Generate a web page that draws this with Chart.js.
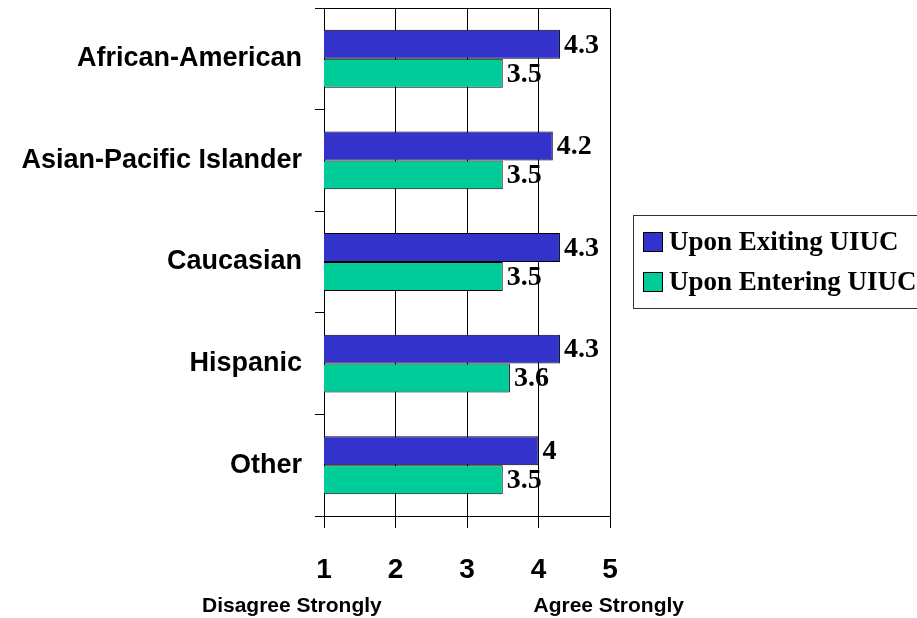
<!DOCTYPE html>
<html lang="en">
<head>
    <meta charset="UTF-8">
    <title>Upon Exiting / Entering UIUC</title>
    <script src="https://cdn.jsdelivr.net/npm/chart.js"></script>
    <style>
        body {
            margin: 0;
            background: white;
            overflow: hidden;
        }
    </style>
</head>
<body>
    <canvas id="uiucChart" width="917" height="618"></canvas>
    <script>
        // groups on the y axis
        const groups = ['African-American', 'Asian-Pacific Islander', 'Caucasian', 'Hispanic', 'Other'];
        // mean agreement, 1 = disagree strongly, 5 = agree strongly
        const exitingValues = [4.3, 4.2, 4.3, 4.3, 4.0];
        const enteringValues = [3.5, 3.5, 3.5, 3.6, 3.5];
        const seriesNames = ['Upon Exiting UIUC', 'Upon Entering UIUC'];
        const scaleTicks = [1, 2, 3, 4, 5];
        const scaleEnds = ['Disagree Strongly', 'Agree Strongly'];

        const sansBold = 'bold 21px "Liberation Sans", Arial, sans-serif';
        const serifBold = 'bold 28px "Liberation Serif", "Times New Roman", serif';
        const legendFont = 'bold 27px "Liberation Serif", "Times New Roman", serif';

        // numbers at the end of each bar
        const valueLabels = {
            id: 'valueLabels',
            afterDatasetsDraw(chart) {
                const ctx = chart.ctx;
                ctx.save();
                ctx.font = serifBold;
                ctx.fillStyle = 'black';
                ctx.textAlign = 'left';
                ctx.textBaseline = 'middle';
                chart.data.datasets.forEach((ds, i) => {
                    chart.getDatasetMeta(i).data.forEach((bar, j) => {
                        ctx.fillText(String(ds.data[j]), bar.x + 4, bar.y + 1);
                    });
                });
                ctx.restore();
            }
        };

        // frame, scale end captions and the boxed legend
        const extras = {
            id: 'extras',
            afterDraw(chart) {
                const ctx = chart.ctx;
                const area = chart.chartArea;
                const xs = chart.scales.x;
                ctx.save();
                ctx.strokeStyle = 'black';
                ctx.lineWidth = 1;
                ctx.beginPath();
                ctx.moveTo(area.left, area.top + 0.5);
                ctx.lineTo(area.right, area.top + 0.5);
                ctx.stroke();

                ctx.font = sansBold;
                ctx.fillStyle = 'black';
                ctx.textBaseline = 'alphabetic';
                ctx.textAlign = 'left';
                ctx.fillText(scaleEnds[0], xs.getPixelForValue(1) - 122, 612);
                ctx.fillText(scaleEnds[1], xs.getPixelForValue(4) - 5, 612);

                // legend
                const lx = area.right + 23;
                const ly = 215;
                ctx.strokeStyle = '#333';
                ctx.strokeRect(lx + 0.5, ly + 0.5, 320, 93);
                ctx.font = legendFont;
                ctx.textBaseline = 'middle';
                chart.data.datasets.forEach((ds, i) => {
                    const cy = ly + 27 + i * 40;
                    ctx.fillStyle = ds.backgroundColor;
                    ctx.fillRect(lx + 10, cy - 10, 20, 20);
                    ctx.strokeStyle = 'black';
                    ctx.strokeRect(lx + 10.5, cy - 9.5, 19, 19);
                    ctx.fillStyle = 'black';
                    ctx.fillText(ds.label, lx + 36, cy + 1);
                });
                ctx.restore();
            }
        };

        const ctx = document.getElementById('uiucChart').getContext('2d');
        const chart = new Chart(ctx, {
            type: 'bar',
            data: {
                labels: groups,
                datasets: [{
                    label: seriesNames[0],
                    data: exitingValues,
                    backgroundColor: '#3333CC',
                    borderColor: 'black',
                    borderWidth: 1,
                    borderSkipped: false
                }, {
                    label: seriesNames[1],
                    data: enteringValues,
                    backgroundColor: '#00CC99',
                    borderColor: 'black',
                    borderWidth: 1,
                    borderSkipped: false
                }]
            },
            options: {
                indexAxis: 'y',
                responsive: false,
                animation: false,
                categoryPercentage: 0.57,
                barPercentage: 1,
                layout: {
                    padding: { top: 8, right: 307, left: 0, bottom: 0 }
                },
                scales: {
                    x: {
                        min: 1,
                        max: 5,
                        afterFit: (scale) => {
                            scale.height = 102;
                        },
                        afterBuildTicks: (scale) => {
                            scale.ticks = scaleTicks.map(v => ({ value: v }));
                        },
                        grid: {
                            color: 'black',
                            lineWidth: 1,
                            tickLength: 12
                        },
                        border: { color: 'black' },
                        ticks: {
                            color: 'black',
                            padding: 25,
                            font: { family: '"Liberation Sans", Arial, sans-serif', size: 28, weight: 'bold' }
                        }
                    },
                    y: {
                        afterFit: (scale) => {
                            scale.width = 324;
                            // no extra room for half label heights, the frame starts near the top
                            scale.paddingTop = 0;
                            scale.paddingBottom = 0;
                        },
                        grid: {
                            offset: true,
                            drawOnChartArea: false,
                            color: 'black',
                            tickLength: 9
                        },
                        border: { color: 'black' },
                        ticks: {
                            color: 'black',
                            padding: 13,
                            font: { family: '"Liberation Sans", Arial, sans-serif', size: 27, weight: 'bold' }
                        }
                    }
                },
                plugins: {
                    legend: { display: false },
                    tooltip: { enabled: false }
                }
            },
            plugins: [valueLabels, extras]
        });
    </script>
</body>
</html>
